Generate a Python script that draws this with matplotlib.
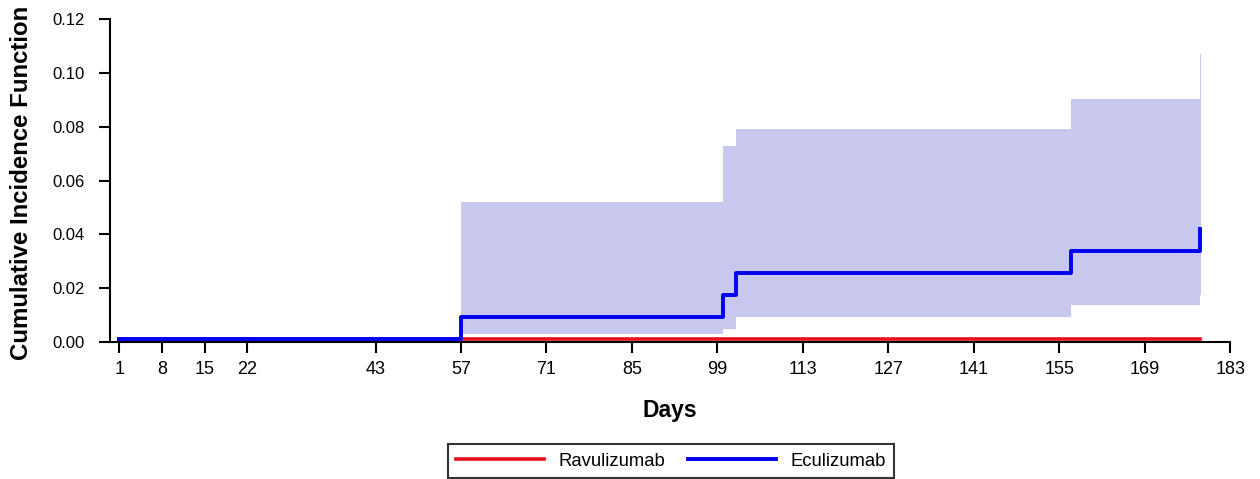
"""
Cumulative incidence plot, Ravulizumab vs Eculizumab
"""

import matplotlib
matplotlib.use("Agg")
import matplotlib.pyplot as plt

plt.rcParams["font.family"] = ["Liberation Sans", "DejaVu Sans"]

# ── Data ──────────────────────────────────────────────────────────
X_TICKS = [1, 8, 15, 22, 43, 57, 71, 85, 99, 113, 127, 141, 155, 169, 183]
Y_TICKS = [0.00, 0.02, 0.04, 0.06, 0.08, 0.10, 0.12]

ravu_days = [1, 178]
ravu_cif = [0.001, 0.001]

ecu_days = [1, 57, 100, 102, 157, 178]
ecu_cif = [0.001, 0.0093, 0.0175, 0.0255, 0.034, 0.042]

band_days = [57, 100, 102, 157, 178, 178.3]
band_lower = [0.003, 0.005, 0.0094, 0.0136, 0.0175, 0.0175]
band_upper = [0.052, 0.073, 0.079, 0.0905, 0.107, 0.107]

RED = "#E8101A"
BLUE = "#0000F0"
BAND = "#C8C8EE"

# ── Plot ──────────────────────────────────────────────────────────
fig = plt.figure(figsize=(12.6, 4.79), dpi=100)
ax = fig.add_axes([0.0873, 0.286, 0.889, 0.674])

ax.fill_between(band_days, band_lower, band_upper, step="post",
                color=BAND, linewidth=0, zorder=1)
ax.step(ravu_days, ravu_cif, where="post", color=RED, linewidth=2.6,
        label="Ravulizumab", zorder=2)
ax.step(ecu_days, ecu_cif, where="post", color=BLUE, linewidth=2.8,
        label="Eculizumab", zorder=3)

ax.set_xlim(-0.5, 183)
ax.set_ylim(0, 0.12)
ax.set_xticks(X_TICKS)
ax.set_xticklabels([str(t) for t in X_TICKS])
ax.set_yticks(Y_TICKS)
ax.set_yticklabels([f"{t:.2f}" for t in Y_TICKS])

for side in ["top", "right"]:
    ax.spines[side].set_visible(False)
for side in ["left", "bottom"]:
    ax.spines[side].set_linewidth(1.5)
ax.tick_params(axis="both", direction="out", length=8, width=1.5,
               colors="black")
ax.tick_params(axis="x", labelsize=13, pad=6)
ax.tick_params(axis="y", labelsize=12, pad=10)

ax.set_xlabel("Days", fontsize=16.5, fontweight="bold", va="top")
ax.xaxis.set_label_coords(0.5, -0.176)
ax.set_ylabel("Cumulative Incidence Function", fontsize=17.3,
              fontweight="bold", va="center")
ax.yaxis.set_label_coords(-0.079, 0.492)

leg = fig.legend(loc="lower center", bbox_to_anchor=(0.5325, 1 / 479),
                 borderaxespad=0, ncol=2, fontsize=13.3, frameon=True,
                 fancybox=False, edgecolor="black", handlelength=4.76,
                 handletextpad=0.76, columnspacing=1.24, borderpad=0.45)
leg.get_frame().set_linewidth(1.5)

fig.savefig("out.png", dpi=100)
plt.close(fig)
